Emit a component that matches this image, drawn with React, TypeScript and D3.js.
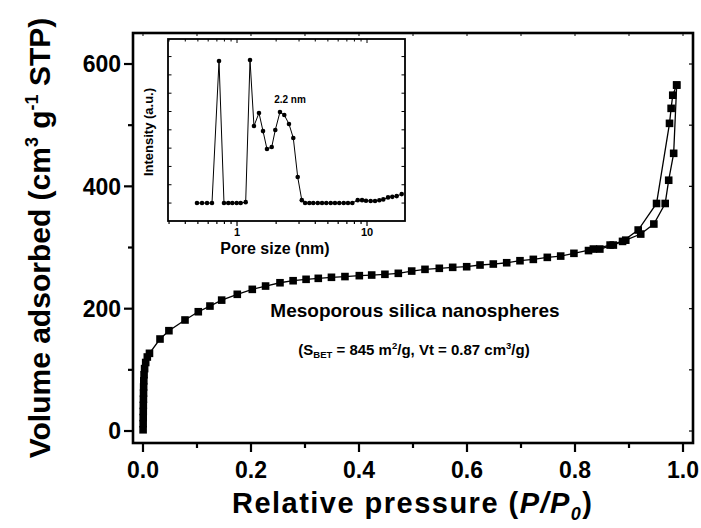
import React, { useRef, useEffect } from 'react';
import * as d3 from 'd3';

// adsorption branch (P/P0, volume cm3/g STP)
const adsP = [0.0002, 0.0003, 0.0004, 0.0005, 0.0006, 0.0008, 0.001, 0.0012, 0.0015, 0.002, 0.003, 0.005, 0.008, 0.012,
  0.0315, 0.048, 0.0778, 0.1024, 0.124, 0.1457, 0.1746, 0.2024, 0.227, 0.2537, 0.278, 0.302, 0.3246, 0.349, 0.374,
  0.4006, 0.4235, 0.448, 0.4728, 0.4976, 0.5222, 0.5487, 0.5735, 0.5994, 0.6241, 0.6487, 0.6735, 0.6981, 0.7228,
  0.7487, 0.7735, 0.798, 0.834, 0.865, 0.894, 0.9217, 0.946, 0.967, 0.9735, 0.9827, 0.9883];
const adsV = [2, 12, 22, 32, 42, 52, 62, 72, 82, 92, 102, 112, 121, 127,
  150.4, 164, 181.5, 195, 204.3, 214, 223.5, 231.6, 237, 242.4, 245.7, 248, 249.6, 251.3, 252.5,
  254, 255, 256.2, 257.8, 261.5, 264.3, 266, 267.6, 268.6, 271.4, 273, 275.1, 278.4, 280.6,
  283.9, 286, 290.5, 297.5, 304, 312, 322, 338.4, 372, 410, 454, 565.6];

// desorption branch
const desP = [0.9883, 0.981, 0.978, 0.975, 0.951, 0.917, 0.888, 0.871, 0.846, 0.825];
const desV = [565.6, 549, 527.5, 503, 372, 328.6, 310, 304, 297.5, 295];

// inset: pore size distribution
const poreSize = [0.492, 0.538, 0.588, 0.642, 0.727, 0.794, 0.857, 0.92, 0.994, 1.067, 1.166, 1.259,
  1.35, 1.476, 1.585, 1.7, 1.85, 1.97, 2.14, 2.31, 2.51, 2.71, 2.93, 3.15,
  3.34, 3.6, 3.86, 4.18, 4.51, 4.86, 5.26, 5.67, 6.12, 6.62, 7.14, 7.71,
  8.48, 9.16, 9.82, 10.67, 11.53, 12.44, 13.34, 14.51, 15.66, 16.92, 18.49];
const intensity = [0, 0, 0, 0, 7.76, 0, 0, 0, 0, 0, 0.05, 7.81,
  4.21, 4.92, 3.93, 2.95, 3.06, 3.99, 4.97, 4.81, 4.32, 3.55, 1.42, 0.16,
  0, 0, 0, 0, 0, 0, 0, 0, 0, 0, 0, 0,
  0.16, 0.16, 0.13, 0.11, 0.11, 0.15, 0.2, 0.31, 0.34, 0.38, 0.49];

const xTicks = [0, 0.2, 0.4, 0.6, 0.8, 1.0];
const yTicks = [0, 200, 400, 600];
const insetXTicks = [1, 10];

const FONT = "'Liberation Sans', Arial, sans-serif";

const App = () => {
  const svgRef = useRef<SVGSVGElement>(null);

  useEffect(() => {
    const width = 701;
    const height = 528;
    const frame = { left: 133, right: 693, top: 33, bottom: 443 };

    const svg = d3.select(svgRef.current)
      .attr("width", width)
      .attr("height", height)
      .style("position", "absolute")
      .style("left", "0px")
      .style("top", "0px")
      .style("background", "#fff")
      .style("font-family", FONT)
      .style("font-weight", "bold");

    svg.selectAll("*").remove();

    const x = d3.scaleLinear().domain([-0.0185, 1.0185]).range([frame.left, frame.right]);
    const y = d3.scaleLinear().domain([-19.6, 650.7]).range([frame.bottom, frame.top]);

    // ticks main
    const g = svg.append("g");
    d3.range(0, 1.001, 0.1).forEach((t, i) => {
      const major = i % 2 === 0;
      g.append("line").attr("x1", x(t)).attr("x2", x(t))
        .attr("y1", frame.bottom).attr("y2", frame.bottom + (major ? 9 : 5))
        .attr("stroke", "#000").attr("stroke-width", 2.2);
      g.append("line").attr("x1", x(t)).attr("x2", x(t))
        .attr("y1", frame.top).attr("y2", frame.top + 3)
        .attr("stroke", "#000").attr("stroke-width", 1);
    });
    d3.range(0, 601, 100).forEach((t, i) => {
      const major = i % 2 === 0;
      g.append("line").attr("y1", y(t)).attr("y2", y(t))
        .attr("x1", frame.left).attr("x2", frame.left - (major ? 9 : 5))
        .attr("stroke", "#000").attr("stroke-width", 2.2);
      g.append("line").attr("y1", y(t)).attr("y2", y(t))
        .attr("x1", frame.right).attr("x2", frame.right - 4)
        .attr("stroke", "#000").attr("stroke-width", 1.2);
    });

    g.selectAll(".xt").data(xTicks).enter().append("text")
      .attr("x", d => x(d)).attr("y", 478)
      .attr("text-anchor", "middle").attr("font-size", 23)
      .text(d => d.toFixed(1));
    g.selectAll(".yt").data(yTicks).enter().append("text")
      .attr("x", 121).attr("y", d => y(d)).attr("dy", "0.36em")
      .attr("text-anchor", "end").attr("font-size", 23)
      .text(d => d);

    // frame
    svg.append("rect")
      .attr("x", frame.left).attr("y", frame.top)
      .attr("width", frame.right - frame.left).attr("height", frame.bottom - frame.top)
      .attr("fill", "none").attr("stroke", "#000").attr("stroke-width", 2.6);

    // isotherm branches: line + square markers
    const drawBranch = (ps: number[], vs: number[]) => {
      const pts: [number, number][] = ps.map((p, i) => [x(p), y(vs[i])]);
      svg.append("path")
        .attr("d", d3.line()(pts))
        .attr("fill", "none").attr("stroke", "#000").attr("stroke-width", 1.3);
      svg.append("g").selectAll("rect").data(pts).enter().append("rect")
        .attr("x", d => d[0] - 3.8).attr("y", d => d[1] - 3.8)
        .attr("width", 7.6).attr("height", 7.6).attr("fill", "#000");
    };
    drawBranch(adsP, adsV);
    drawBranch(desP, desV);

    // annotations
    svg.append("text").attr("x", 415).attr("y", 316.5)
      .attr("text-anchor", "middle").attr("font-size", 19)
      .text("Mesoporous silica nanospheres");

    const sub = svg.append("text").attr("x", 414).attr("y", 355)
      .attr("text-anchor", "middle").attr("font-size", 15);
    sub.append("tspan").text("(S");
    sub.append("tspan").attr("font-size", 9.5).attr("dy", 3).text("BET");
    sub.append("tspan").attr("dy", -3).text(" = 845 m");
    sub.append("tspan").attr("font-size", 9.5).attr("dy", -6).text("2");
    sub.append("tspan").attr("dy", 6).text("/g, Vt = 0.87 cm");
    sub.append("tspan").attr("font-size", 9.5).attr("dy", -6).text("3");
    sub.append("tspan").attr("dy", 6).text("/g)");

    // axis titles
    const xt = svg.append("text").attr("x", 412).attr("y", 513)
      .attr("text-anchor", "middle").attr("font-size", 29)
      .attr("textLength", 360).attr("lengthAdjust", "spacing");
    xt.append("tspan").text("Relative pressure (");
    xt.append("tspan").attr("font-style", "italic").text("P/P");
    xt.append("tspan").attr("font-style", "italic").attr("font-size", 18).attr("dy", 7).text("0");
    xt.append("tspan").attr("dy", -7).text(")");

    const yt = svg.append("text")
      .attr("transform", "translate(50,238) rotate(-90)")
      .attr("text-anchor", "middle").attr("font-size", 30);
    yt.append("tspan").text("Volume adsorbed (cm");
    yt.append("tspan").attr("font-size", 18).attr("dy", -12).text("3");
    yt.append("tspan").attr("dy", 12).text(" g");
    yt.append("tspan").attr("font-size", 18).attr("dy", -12).text("-1");
    yt.append("tspan").attr("dy", 12).text(" STP)");

    // inset
    const inset = { left: 168, right: 405, top: 39, bottom: 221 };
    const ix = d3.scaleLog().domain([0.2945, 19.6]).range([inset.left, inset.right]);
    const iy = d3.scaleLinear().domain([-0.98, 8.96]).range([inset.bottom, inset.top]);
    const ig = svg.append("g");

    ig.append("rect").attr("x", inset.left).attr("y", inset.top)
      .attr("width", inset.right - inset.left).attr("height", inset.bottom - inset.top)
      .attr("fill", "#fff").attr("stroke", "#000").attr("stroke-width", 1.8);

    const logTicks = ix.ticks().filter(t => t >= 0.3 && t <= 19.6);
    logTicks.forEach(t => {
      const major = insetXTicks.includes(t);
      ig.append("line").attr("x1", ix(t)).attr("x2", ix(t))
        .attr("y1", inset.bottom).attr("y2", inset.bottom + (major ? 5 : 3))
        .attr("stroke", "#000").attr("stroke-width", 1.2);
      ig.append("line").attr("x1", ix(t)).attr("x2", ix(t))
        .attr("y1", inset.top).attr("y2", inset.top + (major ? 4 : 2.5))
        .attr("stroke", "#000").attr("stroke-width", 1);
    });
    d3.range(0, 9).forEach(t => {
      ig.append("line").attr("y1", iy(t)).attr("y2", iy(t))
        .attr("x1", inset.left).attr("x2", inset.left + 3.5)
        .attr("stroke", "#000").attr("stroke-width", 1);
      ig.append("line").attr("y1", iy(t)).attr("y2", iy(t))
        .attr("x1", inset.right).attr("x2", inset.right - 3.5)
        .attr("stroke", "#000").attr("stroke-width", 1);
    });
    ig.selectAll(".ixt").data(insetXTicks).enter().append("text")
      .attr("x", d => ix(d)).attr("y", 236)
      .attr("text-anchor", "middle").attr("font-size", 11)
      .text(d => d);

    const ipts: [number, number][] = poreSize.map((s, i) => [ix(s), iy(intensity[i])]);
    ig.append("path").attr("d", d3.line()(ipts))
      .attr("fill", "none").attr("stroke", "#000").attr("stroke-width", 1);
    ig.selectAll("circle").data(ipts).enter().append("circle")
      .attr("cx", d => d[0]).attr("cy", d => d[1]).attr("r", 2.3).attr("fill", "#000");

    ig.append("text").attr("x", 290).attr("y", 103)
      .attr("text-anchor", "middle").attr("font-size", 10).text("2.2 nm");
    ig.append("text").attr("x", 275).attr("y", 254)
      .attr("text-anchor", "middle").attr("font-size", 16).text("Pore size (nm)");
    ig.append("text").attr("transform", "translate(153,132) rotate(-90)")
      .attr("text-anchor", "middle").attr("font-size", 13).text("Intensity (a.u.)");
  }, []);

  return <svg ref={svgRef}></svg>;
};

export default App;
